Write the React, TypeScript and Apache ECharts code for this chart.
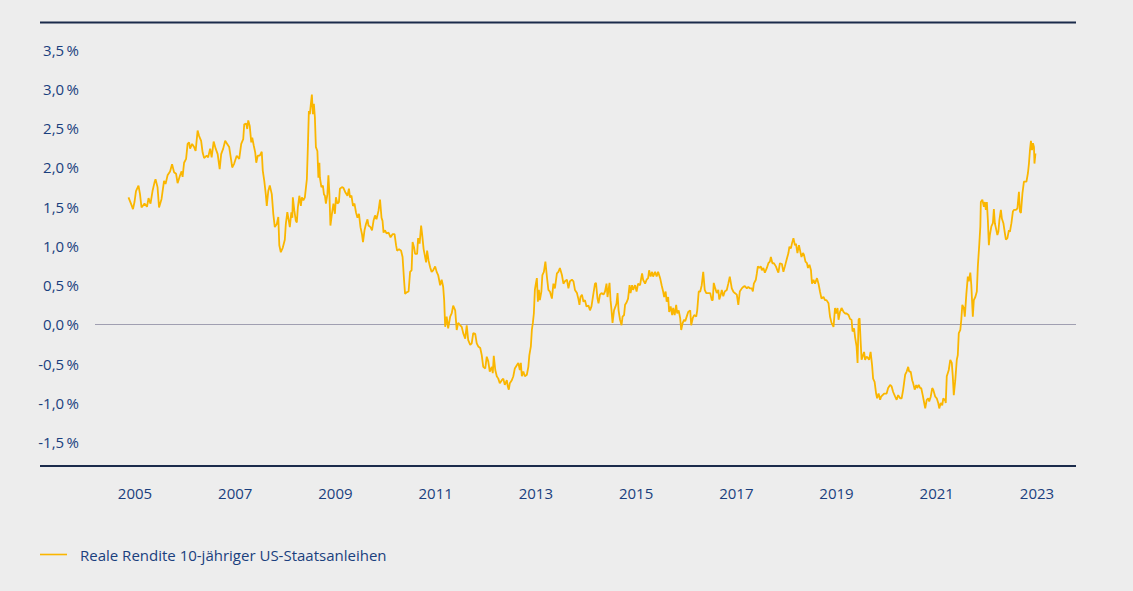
import React, { useEffect, useRef } from "react";
import * as echarts from "echarts";

const seriesName = "Reale Rendite 10-jähriger US-Staatsanleihen";

const xTickYears = [2005, 2007, 2009, 2011, 2013, 2015, 2017, 2019, 2021, 2023];
const yTickValues = [-1.5, -1.0, -0.5, 0.0, 0.5, 1.0, 1.5, 2.0, 2.5, 3.0, 3.5];

const years = [
  2004.87, 2004.92, 2004.96, 2004.99, 2005.02, 2005.07, 2005.10, 2005.13, 2005.19, 2005.24,
  2005.27, 2005.31, 2005.35, 2005.39, 2005.41, 2005.45, 2005.48, 2005.53, 2005.58, 2005.61,
  2005.65, 2005.70, 2005.74, 2005.78, 2005.82, 2005.85, 2005.90, 2005.93, 2005.95, 2005.98,
  2006.02, 2006.05, 2006.08, 2006.10, 2006.14, 2006.18, 2006.21, 2006.25, 2006.28, 2006.32,
  2006.35, 2006.38, 2006.43, 2006.46, 2006.50, 2006.53, 2006.57, 2006.61, 2006.65, 2006.69,
  2006.72, 2006.76, 2006.80, 2006.84, 2006.88, 2006.92, 2006.94, 2006.98, 2007.03, 2007.08,
  2007.12, 2007.16, 2007.18, 2007.22, 2007.24, 2007.26, 2007.29, 2007.32, 2007.34, 2007.37,
  2007.40, 2007.42, 2007.45, 2007.49, 2007.53, 2007.55, 2007.58, 2007.61, 2007.63, 2007.66,
  2007.69, 2007.73, 2007.76, 2007.79, 2007.83, 2007.86, 2007.88, 2007.91, 2007.95, 2007.99,
  2008.01, 2008.04, 2008.07, 2008.09, 2008.12, 2008.14, 2008.15, 2008.18, 2008.21, 2008.23,
  2008.25, 2008.28, 2008.31, 2008.33, 2008.36, 2008.39, 2008.43, 2008.45, 2008.47, 2008.49,
  2008.51, 2008.53, 2008.55, 2008.57, 2008.59, 2008.61, 2008.64, 2008.66, 2008.68, 2008.69,
  2008.72, 2008.75, 2008.77, 2008.79, 2008.81, 2008.84, 2008.86, 2008.88, 2008.90, 2008.93,
  2008.96, 2008.99, 2009.01, 2009.04, 2009.07, 2009.09, 2009.13, 2009.16, 2009.20, 2009.24,
  2009.27, 2009.29, 2009.32, 2009.35, 2009.38, 2009.41, 2009.44, 2009.47, 2009.50, 2009.53,
  2009.55, 2009.58, 2009.61, 2009.64, 2009.66, 2009.70, 2009.73, 2009.76, 2009.79, 2009.82,
  2009.86, 2009.89, 2009.92, 2009.94, 2009.96, 2009.99, 2010.02, 2010.06, 2010.10, 2010.14,
  2010.18, 2010.21, 2010.23, 2010.27, 2010.31, 2010.34, 2010.37, 2010.39, 2010.42, 2010.46,
  2010.49, 2010.52, 2010.54, 2010.57, 2010.59, 2010.63, 2010.65, 2010.68, 2010.71, 2010.73,
  2010.76, 2010.79, 2010.81, 2010.83, 2010.86, 2010.89, 2010.92, 2010.95, 2010.99, 2011.02,
  2011.05, 2011.09, 2011.12, 2011.15, 2011.17, 2011.19, 2011.22, 2011.25, 2011.29, 2011.32,
  2011.35, 2011.39, 2011.42, 2011.45, 2011.49, 2011.52, 2011.55, 2011.59, 2011.62, 2011.65,
  2011.69, 2011.72, 2011.75, 2011.79, 2011.82, 2011.85, 2011.89, 2011.92, 2011.95, 2011.99,
  2012.02, 2012.05, 2012.08, 2012.12, 2012.14, 2012.16, 2012.19, 2012.22, 2012.25, 2012.28,
  2012.32, 2012.35, 2012.38, 2012.42, 2012.44, 2012.46, 2012.48, 2012.52, 2012.55, 2012.58,
  2012.62, 2012.65, 2012.68, 2012.70, 2012.72, 2012.75, 2012.78, 2012.82, 2012.85, 2012.87,
  2012.90, 2012.92, 2012.94, 2012.96, 2012.98, 2013.00, 2013.02, 2013.04, 2013.06, 2013.08,
  2013.11, 2013.13, 2013.16, 2013.19, 2013.22, 2013.25, 2013.28, 2013.32, 2013.35, 2013.38,
  2013.42, 2013.45, 2013.48, 2013.52, 2013.55, 2013.58, 2013.62, 2013.65, 2013.68, 2013.72,
  2013.75, 2013.78, 2013.82, 2013.85, 2013.87, 2013.89, 2013.92, 2013.95, 2013.98, 2014.01,
  2014.05, 2014.08, 2014.11, 2014.15, 2014.18, 2014.20, 2014.23, 2014.25, 2014.28, 2014.31,
  2014.35, 2014.38, 2014.41, 2014.43, 2014.47, 2014.49, 2014.51, 2014.53, 2014.56, 2014.59,
  2014.61, 2014.63, 2014.65, 2014.68, 2014.71, 2014.73, 2014.76, 2014.78, 2014.81, 2014.84,
  2014.87, 2014.89, 2014.92, 2014.94, 2014.98, 2015.01, 2015.04, 2015.08, 2015.10, 2015.12,
  2015.14, 2015.18, 2015.21, 2015.24, 2015.26, 2015.29, 2015.32, 2015.34, 2015.38, 2015.41,
  2015.44, 2015.48, 2015.51, 2015.54, 2015.56, 2015.59, 2015.61, 2015.64, 2015.66, 2015.69,
  2015.72, 2015.74, 2015.77, 2015.80, 2015.82, 2015.85, 2015.88, 2015.90, 2015.93, 2015.96,
  2015.98, 2016.01, 2016.04, 2016.08, 2016.10, 2016.13, 2016.16, 2016.20, 2016.22, 2016.25,
  2016.28, 2016.31, 2016.34, 2016.37, 2016.40, 2016.44, 2016.48, 2016.51, 2016.53, 2016.55,
  2016.58, 2016.61, 2016.64, 2016.66, 2016.69, 2016.71, 2016.74, 2016.77, 2016.81, 2016.84,
  2016.87, 2016.91, 2016.94, 2016.97, 2017.01, 2017.04, 2017.07, 2017.11, 2017.14, 2017.17,
  2017.21, 2017.24, 2017.27, 2017.31, 2017.33, 2017.35, 2017.39, 2017.41, 2017.43, 2017.46,
  2017.49, 2017.51, 2017.54, 2017.57, 2017.61, 2017.64, 2017.67, 2017.69, 2017.72, 2017.75,
  2017.79, 2017.82, 2017.84, 2017.87, 2017.91, 2017.94, 2017.97, 2018.01, 2018.04, 2018.06,
  2018.09, 2018.11, 2018.14, 2018.17, 2018.19, 2018.22, 2018.25, 2018.27, 2018.30, 2018.33,
  2018.35, 2018.38, 2018.41, 2018.43, 2018.46, 2018.49, 2018.51, 2018.54, 2018.57, 2018.61,
  2018.64, 2018.67, 2018.70, 2018.74, 2018.77, 2018.80, 2018.84, 2018.87, 2018.90, 2018.94,
  2018.97, 2018.99, 2019.02, 2019.04, 2019.07, 2019.10, 2019.14, 2019.17, 2019.20, 2019.24,
  2019.27, 2019.30, 2019.32, 2019.35, 2019.37, 2019.40, 2019.42, 2019.44, 2019.46, 2019.48,
  2019.50, 2019.52, 2019.55, 2019.57, 2019.60, 2019.63, 2019.65, 2019.68, 2019.71, 2019.73,
  2019.76, 2019.79, 2019.81, 2019.84, 2019.87, 2019.89, 2019.92, 2019.95, 2019.97, 2020.00,
  2020.03, 2020.07, 2020.10, 2020.13, 2020.17, 2020.20, 2020.23, 2020.27, 2020.30, 2020.33,
  2020.37, 2020.40, 2020.43, 2020.45, 2020.48, 2020.51, 2020.53, 2020.56, 2020.59, 2020.61,
  2020.64, 2020.67, 2020.69, 2020.72, 2020.75, 2020.77, 2020.80, 2020.83, 2020.85, 2020.88,
  2020.91, 2020.93, 2020.97, 2021.00, 2021.03, 2021.05, 2021.08, 2021.11, 2021.13, 2021.17,
  2021.18, 2021.20, 2021.21, 2021.24, 2021.27, 2021.30, 2021.32, 2021.34, 2021.37, 2021.40,
  2021.42, 2021.44, 2021.47, 2021.49, 2021.51, 2021.54, 2021.56, 2021.59, 2021.62, 2021.64,
  2021.67, 2021.69, 2021.72, 2021.74, 2021.77, 2021.80, 2021.82, 2021.85, 2021.87, 2021.88,
  2021.91, 2021.94, 2021.96, 2021.98, 2022.00, 2022.02, 2022.04, 2022.06, 2022.09, 2022.12,
  2022.14, 2022.16, 2022.18, 2022.21, 2022.23, 2022.25, 2022.28, 2022.30, 2022.33, 2022.36,
  2022.38, 2022.41, 2022.44, 2022.46, 2022.49, 2022.52, 2022.54, 2022.58, 2022.61, 2022.64,
  2022.66, 2022.68, 2022.71, 2022.74, 2022.76, 2022.79, 2022.82, 2022.84, 2022.86, 2022.88,
  2022.90, 2022.92, 2022.94, 2022.95, 2022.97,
];

const realYield = [
  1.62, 1.54, 1.47, 1.56, 1.70, 1.77, 1.66, 1.49, 1.54, 1.50,
  1.61, 1.54, 1.70, 1.81, 1.85, 1.75, 1.49, 1.60, 1.83, 1.79,
  1.90, 1.95, 2.04, 1.94, 1.92, 1.80, 1.90, 1.95, 1.88, 2.06,
  2.11, 2.30, 2.32, 2.24, 2.30, 2.26, 2.21, 2.47, 2.40, 2.34,
  2.19, 2.12, 2.15, 2.13, 2.24, 2.13, 2.33, 2.24, 2.17, 1.98,
  2.17, 2.24, 2.34, 2.30, 2.26, 2.09, 2.00, 2.05, 2.15, 2.11,
  2.30, 2.36, 2.55, 2.56, 2.49, 2.60, 2.53, 2.32, 2.38, 2.28,
  2.19, 2.06, 2.15, 2.15, 2.20, 1.96, 1.83, 1.66, 1.51, 1.70,
  1.77, 1.66, 1.41, 1.24, 1.28, 1.37, 1.01, 0.92, 0.98, 1.08,
  1.28, 1.43, 1.32, 1.24, 1.43, 1.36, 1.62, 1.45, 1.32, 1.30,
  1.49, 1.64, 1.51, 1.62, 1.58, 1.62, 1.85, 2.26, 2.72, 2.68,
  2.81, 2.93, 2.68, 2.81, 2.64, 2.26, 2.21, 1.87, 2.06, 1.87,
  1.75, 1.77, 1.66, 1.64, 1.54, 1.66, 1.90, 1.66, 1.26, 1.41,
  1.54, 1.41, 1.62, 1.54, 1.56, 1.73, 1.75, 1.74, 1.68, 1.64,
  1.73, 1.62, 1.64, 1.51, 1.54, 1.43, 1.36, 1.41, 1.24, 1.15,
  1.05, 1.20, 1.28, 1.34, 1.26, 1.24, 1.20, 1.32, 1.39, 1.34,
  1.45, 1.59, 1.36, 1.32, 1.17, 1.20, 1.16, 1.17, 1.11, 1.15,
  1.15, 1.01, 0.94, 0.96, 0.94, 0.86, 0.56, 0.39, 0.41, 0.42,
  0.67, 0.69, 1.05, 0.98, 0.90, 0.90, 1.10, 1.03, 1.26, 1.15,
  0.96, 0.86, 0.79, 0.94, 0.81, 0.73, 0.67, 0.69, 0.74, 0.67,
  0.63, 0.50, 0.57, 0.48, 0.31, -0.03, 0.10, -0.05, 0.10, 0.14,
  0.24, 0.18, -0.07, 0.02, -0.01, -0.03, -0.11, -0.18, -0.01, -0.20,
  -0.26, -0.24, -0.11, -0.12, -0.24, -0.28, -0.30, -0.39, -0.54, -0.56,
  -0.41, -0.47, -0.60, -0.54, -0.62, -0.40, -0.58, -0.66, -0.69, -0.75,
  -0.71, -0.69, -0.77, -0.71, -0.79, -0.83, -0.75, -0.71, -0.66, -0.56,
  -0.52, -0.49, -0.58, -0.49, -0.66, -0.60, -0.66, -0.64, -0.54, -0.39,
  -0.28, -0.07, 0.02, 0.14, 0.44, 0.52, 0.59, 0.29, 0.44, 0.31,
  0.42, 0.63, 0.67, 0.80, 0.61, 0.44, 0.42, 0.33, 0.52, 0.46,
  0.65, 0.67, 0.72, 0.63, 0.52, 0.55, 0.57, 0.46, 0.55, 0.57,
  0.55, 0.44, 0.40, 0.32, 0.25, 0.35, 0.38, 0.29, 0.31, 0.23,
  0.24, 0.18, 0.23, 0.40, 0.52, 0.53, 0.33, 0.27, 0.38, 0.40,
  0.38, 0.42, 0.52, 0.35, 0.53, 0.31, 0.18, 0.02, 0.18, 0.23,
  0.27, 0.40, 0.18, 0.06, -0.01, 0.10, 0.12, 0.25, 0.28, 0.33,
  0.50, 0.40, 0.50, 0.44, 0.50, 0.42, 0.52, 0.50, 0.58, 0.65,
  0.57, 0.52, 0.57, 0.59, 0.69, 0.61, 0.67, 0.61, 0.67, 0.61,
  0.67, 0.59, 0.50, 0.42, 0.35, 0.42, 0.29, 0.35, 0.16, 0.23,
  0.12, 0.21, 0.12, 0.25, 0.14, 0.18, 0.08, -0.07, 0.02, 0.06,
  0.04, 0.10, 0.16, 0.18, -0.01, 0.08, 0.12, 0.10, 0.18, 0.42,
  0.42, 0.50, 0.67, 0.44, 0.40, 0.40, 0.40, 0.31, 0.31, 0.53,
  0.46, 0.40, 0.44, 0.32, 0.38, 0.44, 0.36, 0.42, 0.44, 0.52,
  0.61, 0.46, 0.42, 0.40, 0.38, 0.25, 0.42, 0.46, 0.48, 0.49,
  0.46, 0.48, 0.46, 0.46, 0.42, 0.52, 0.57, 0.65, 0.74, 0.72,
  0.74, 0.69, 0.72, 0.66, 0.72, 0.78, 0.80, 0.86, 0.78, 0.78,
  0.74, 0.69, 0.66, 0.78, 0.77, 0.67, 0.74, 0.84, 0.91, 0.99,
  0.97, 1.03, 1.10, 1.01, 1.03, 0.91, 1.01, 0.95, 0.86, 0.91,
  0.89, 0.80, 0.78, 0.72, 0.76, 0.69, 0.52, 0.57, 0.52, 0.59,
  0.52, 0.42, 0.33, 0.35, 0.31, 0.31, 0.27, 0.10, 0.02, -0.03,
  0.21, 0.14, 0.21, 0.06, 0.16, 0.21, 0.16, 0.14, 0.14, 0.12,
  0.07, 0.06, -0.09, -0.05, -0.16, -0.28, -0.49, 0.06, 0.08, -0.20,
  -0.45, -0.41, -0.35, -0.45, -0.41, -0.43, -0.45, -0.35, -0.52, -0.69,
  -0.73, -0.88, -0.94, -0.88, -0.96, -0.92, -0.90, -0.88, -0.88, -0.88,
  -0.81, -0.77, -0.79, -0.86, -0.92, -0.96, -0.90, -0.94, -0.94, -0.83,
  -0.64, -0.60, -0.54, -0.60, -0.60, -0.71, -0.75, -0.83, -0.77, -0.81,
  -0.77, -0.81, -0.81, -0.90, -1.00, -1.07, -0.96, -0.94, -0.98, -0.92,
  -0.81, -0.83, -0.92, -0.94, -1.00, -1.07, -1.00, -1.03, -0.94, -0.97,
  -1.00, -0.66, -0.64, -0.58, -0.45, -0.49, -0.66, -0.90, -0.71, -0.45,
  -0.39, -0.11, -0.07, 0.06, 0.25, 0.21, 0.10, 0.38, 0.61, 0.55,
  0.66, 0.50, 0.10, 0.31, 0.35, 0.42, 0.74, 1.03, 1.25, 1.56,
  1.59, 1.50, 1.56, 1.46, 1.56, 1.33, 1.01, 1.14, 1.25, 1.29,
  1.47, 1.29, 1.23, 1.14, 1.18, 1.33, 1.46, 1.35, 1.29, 1.16,
  1.08, 1.10, 1.20, 1.18, 1.29, 1.44, 1.46, 1.46, 1.48, 1.69,
  1.44, 1.42, 1.67, 1.82, 1.82, 1.82, 1.93, 2.05, 2.22, 2.34,
  2.22, 2.31, 2.26, 2.05, 2.18,
];

const BG = "#ededed";
const TEXT = "#1a3f7e";
const NAVY = "#1b2b4b";
const LINE = "#fab600";
const FONT = "'Open Sans', 'Noto Sans', sans-serif";

export default function App() {
  const ref = useRef<HTMLDivElement>(null);

  useEffect(() => {
    if (!ref.current) return;
    const chart = echarts.init(ref.current, null, { renderer: "svg" });
    const data = years.map((y, i) => [y, realYield[i]]);
    chart.setOption({
      animation: false,
      backgroundColor: BG,
      textStyle: { fontFamily: FONT },
      grid: { left: 95, right: 57, top: 22.5, bottom: 125, containLabel: false },
      xAxis: {
        type: "value",
        min: 2004.202,
        max: 2023.779,
        axisLine: { show: false },
        axisTick: { show: false },
        splitLine: { show: false },
        axisLabel: {
          customValues: xTickYears,
          formatter: (v: number) => String(Math.round(v)),
          color: TEXT,
          fontSize: 15,
          fontFamily: FONT,
          margin: 19,
        },
      },
      yAxis: {
        type: "value",
        min: -1.803,
        max: 3.847,
        axisLine: { show: false },
        axisTick: { show: false },
        splitLine: { show: false },
        axisLabel: {
          customValues: yTickValues,
          formatter: (v: number) => v.toFixed(1).replace(".", ",") + "\u2009%",
          color: TEXT,
          fontSize: 15,
          fontFamily: FONT,
          margin: 16,
        },
      },
      legend: {
        show: true,
        left: 35,
        top: 542,
        itemWidth: 27,
        itemHeight: 14,
        icon: "path://M0,6 L27,6 L27,7.6 L0,7.6 Z",
        textStyle: { color: TEXT, fontSize: 15, fontFamily: FONT, padding: [0, 0, 0, 8] },
        data: [{ name: seriesName, itemStyle: { color: LINE } }],
      },
      graphic: [
        { type: "line", shape: { x1: 40, y1: 22.5, x2: 1076, y2: 22.5 }, style: { stroke: NAVY, lineWidth: 2 }, silent: true },
        { type: "line", shape: { x1: 40, y1: 466, x2: 1076, y2: 466 }, style: { stroke: NAVY, lineWidth: 2 }, silent: true },
      ],
      series: [
        {
          name: seriesName,
          type: "line",
          data,
          symbol: "none",
          showSymbol: false,
          lineStyle: { color: LINE, width: 1.8 },
          itemStyle: { color: LINE },
          z: 3,
          markLine: {
            silent: true,
            symbol: "none",
            label: { show: false },
            lineStyle: { color: "#a09fb1", width: 1, type: "solid" },
            data: [{ yAxis: 0 }],
            z: 1,
          },
        },
      ],
    });
    return () => chart.dispose();
  }, []);

  return (
    <div
      ref={ref}
      style={{ position: "fixed", left: 0, top: 0, width: 1133, height: 591, background: BG }}
    />
  );
}
